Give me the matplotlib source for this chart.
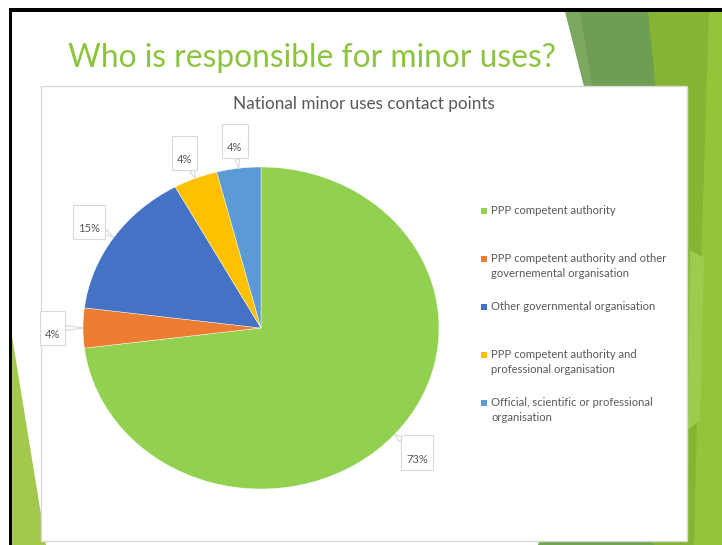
import matplotlib
matplotlib.use("Agg")
import matplotlib.pyplot as plt
from matplotlib.patches import Polygon, Rectangle
import numpy as np

# ---- data ----
categories = [
    "PPP competent authority",
    "PPP competent authority and other\ngovernemental organisation",
    "Other governmental organisation",
    "PPP competent authority and\nprofessional organisation",
    "Official, scientific or professional\norganisation",
]
values = [73, 4, 15, 4, 4]
colors = ["#92D050", "#ED7D31", "#4472C4", "#FFC000", "#5B9BD5"]
slide_title = "Who is responsible for minor uses?"
chart_title = "National minor uses contact points"

W, H = 722, 545
fig = plt.figure(figsize=(W / 100, H / 100), dpi=100)
fig.patch.set_facecolor("white")

# background axes in pixel coordinates
bg = fig.add_axes([0, 0, 1, 1])
bg.set_xlim(0, W)
bg.set_ylim(H, 0)
bg.axis("off")

# decorative green shapes (slide theme)
shapes = [
    ([(640, 11), (722, 11), (722, 545), (538, 545), (600, 300)], "#86B533"),
    ([(565, 11), (648, 11), (660, 130), (595, 130)], "#6F9D52"),
    ([(565, 11), (580, 11), (593, 90), (586, 90)], "#7DA860"),
    ([(709, 11), (722, 11), (722, 545), (694, 545), (700, 300)], "#94C43A"),
    ([(690, 250), (704, 258), (700, 420), (688, 430)], "#9DCB4E"),
    ([(538, 545), (545, 538), (650, 538), (655, 545)], "#6FA74F"),
    ([(11, 330), (11, 545), (46, 545)], "#A2C94B"),
]
for pts, c in shapes:
    bg.add_patch(Polygon(pts, closed=True, fc=c, ec="none", zorder=1))

# black frame of the screenshot
bg.add_patch(Rectangle((9, 8), W - 9, 3.5, fc="black", ec="none", zorder=3))
bg.add_patch(Rectangle((9, 8), 3, H - 8, fc="black", ec="none", zorder=3))

# slide title
bg.text(68, 58, slide_title, color="#8DC43F", fontsize=22.9, family="Lato",
        ha="left", va="center", zorder=4)

# chart area box
bg.add_patch(Rectangle((41, 86), 646, 455, fc="white", ec="#D9D9D9", lw=1, zorder=2))
bg.text(364, 104, chart_title, color="#595959", fontsize=12.3, family="Lato",
        ha="center", va="center", zorder=4)

# legend (manual, to match Excel layout)
lx, ly0, lstep = 491, 211, 48
for i, (lab, col) in enumerate(zip(categories, colors)):
    y = ly0 + i * lstep
    bg.add_patch(Rectangle((481, y - 3), 6, 6, fc=col, ec="none", zorder=4))
    bg.text(lx, y - 6.5, lab, color="#595959", fontsize=8.1, family="Lato",
            ha="left", va="top", linespacing=1.5, zorder=4)

# pie axes (elliptical, as in the stretched screenshot)
pax = fig.add_axes([83 / W, (H - 489) / H, 356 / W, 322 / H])
wedges, _ = pax.pie(values, colors=colors, startangle=90, counterclock=False,
                    wedgeprops=dict(edgecolor="white", linewidth=0.3))
pax.set_aspect("auto")
pax.set_xlim(-1, 1)
pax.set_ylim(-1, 1)
pax.axis("off")

total = sum(values)
for w, v in zip(wedges, values):
    ang = np.deg2rad((w.theta1 + w.theta2) / 2)
    tip = (np.cos(ang), np.sin(ang))
    pos = (1.17 * np.cos(ang), 1.17 * np.sin(ang))
    pax.annotate("\n" + f"{round(100 * v / total)}%", xy=tip, xytext=pos,
                 ha="center", va="center", fontsize=8, color="#595959",
                 family="Lato", annotation_clip=False, linespacing=1.3,
                 bbox=dict(boxstyle="square,pad=0.45", fc="white", ec="#D9D9D9", lw=0.8),
                 arrowprops=dict(arrowstyle="wedge,tail_width=0.45,shrink_factor=0.5",
                                 fc="white", ec="#D9D9D9", lw=0.8,
                                 shrinkA=0, shrinkB=0))

fig.savefig("out.png", dpi=100)
